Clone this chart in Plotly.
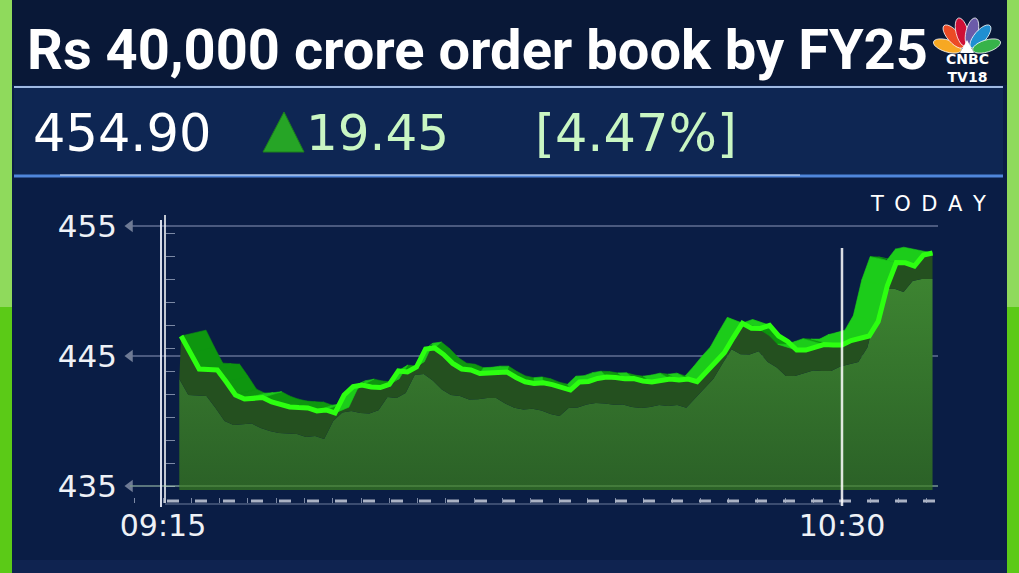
import math
import pandas as pd
import plotly.graph_objects as go

W, H = 1019, 573

# ---------------- data ----------------
TITLE = "Rs 40,000 crore order book by FY25"
LAST_PRICE = "454.90"
CHANGE = "19.45"
CHANGE_PCT = "[4.47%]"
PERIOD = "TODAY"
BRAND_TOP = "CNBC"
BRAND_BOTTOM = "TV18"

DAY = "2024-01-01"
FIRST_MINUTE = "09:17"
PRICES = [
    446.54, 445.23, 444.00, 443.96, 443.92, 443.00, 442.00, 441.69, 441.73, 441.80,
    441.46, 441.23, 441.08, 441.03, 441.00, 440.77, 440.85, 440.62, 442.00, 442.65,
    442.77, 442.62, 442.57, 442.82, 443.85, 443.77, 444.15, 445.54, 445.62, 445.11,
    444.43, 444.00, 443.92, 443.65, 443.68, 443.77, 443.77, 443.35, 443.02, 442.88,
    442.94, 442.80, 442.54, 442.38, 443.00, 443.04, 443.27, 443.38, 443.35, 443.25,
    443.26, 443.08, 443.00, 443.08, 443.23, 443.15, 443.23, 443.02, 443.74, 444.54,
    445.25, 446.42, 447.52, 447.14, 447.12, 447.36, 446.54, 446.12, 445.46, 445.46,
    445.65, 445.88, 445.85, 445.85, 446.19, 446.35, 446.54, 447.66, 450.39, 452.19,
    452.17, 451.92, 452.77, 452.92,
]
Y_TICKS = [435, 445, 455]
X_TICKS = ["09:15", "10:30"]

# ---------------- geometry (pixels) ----------------
PLOT_L, PLOT_R, PLOT_T, PLOT_B = 130, 938, 215, 503
XT0_PX, XT1_PX = 163, 842          # pixel of first / last x tick
YT_TOP_PX, YT_BOT_PX = 226, 486    # pixel of top / bottom y tick


def fx(px):
    return px / W


def fy(py):
    return 1 - py / H


times = pd.date_range(f"{DAY} {FIRST_MINUTE}", periods=len(PRICES), freq="min")
t_first = pd.Timestamp(f"{DAY} {X_TICKS[0]}")
t_last = pd.Timestamp(f"{DAY} {X_TICKS[-1]}")
tick_minutes = (t_last - t_first).total_seconds() / 60
ppm = (XT1_PX - XT0_PX) / tick_minutes
x_range = [t_first - pd.Timedelta(minutes=(XT0_PX - PLOT_L) / ppm),
           t_first + pd.Timedelta(minutes=(PLOT_R - XT0_PX) / ppm)]
ppu = (YT_BOT_PX - YT_TOP_PX) / (Y_TICKS[-1] - Y_TICKS[0])
y_range = [Y_TICKS[0] - (PLOT_B - YT_BOT_PX) / ppu,
           Y_TICKS[-1] + (YT_TOP_PX - PLOT_T) / ppu]


def yval(py):
    return Y_TICKS[-1] - (py - YT_TOP_PX) / ppu


# ---------------- derived 3D decoration ----------------
BASE = yval(490)
SH_DT = pd.Timedelta(minutes=1.2)
SH_DY = 2.0
shadow_x = list(times[1:] - SH_DT) + [times[-1]]
shadow_y = [p - SH_DY for p in PRICES[1:]] + [PRICES[-1] - SH_DY]

VP_MIN, PERSP, RIB_DY = 40.5, 0.0714, 0.45
mins = [(t - t_first).total_seconds() / 60 for t in times]
back_x = [t_first + pd.Timedelta(minutes=m + PERSP * (VP_MIN - m)) for m in mins]
back_y = [p + RIB_DY for p in PRICES]

up_x, up_y, dn_x, dn_y = [], [], [], []
for i in range(len(PRICES) - 1):
    qx = [times[i], times[i + 1], back_x[i + 1], back_x[i], times[i], None]
    qy = [PRICES[i], PRICES[i + 1], back_y[i + 1], back_y[i], PRICES[i], None]
    if PRICES[i + 1] >= PRICES[i]:
        up_x += qx; up_y += qy
    else:
        dn_x += qx; dn_y += qy

fig = go.Figure()
fig.add_trace(go.Scatter(x=[shadow_x[0], shadow_x[-1]], y=[BASE, BASE], mode="lines",
                         line=dict(width=0), hoverinfo="skip", showlegend=False))
fig.add_trace(go.Scatter(x=shadow_x, y=shadow_y, mode="lines", line=dict(width=0),
                         fill="tonexty",
                         fillgradient=dict(type="vertical",
                                           colorscale=[[0, "#2b6127"], [1, "#3d8431"]]),
                         hoverinfo="skip", showlegend=False))
fig.add_trace(go.Scatter(x=times, y=PRICES, mode="lines", line=dict(width=0),
                         fill="tonexty", fillcolor="#24501f",
                         hoverinfo="skip", showlegend=False))
fig.add_trace(go.Scatter(x=dn_x, y=dn_y, mode="lines", fill="toself", fillcolor="#0e960f",
                         line=dict(width=0.6, color="#0e960f"),
                         hoverinfo="skip", showlegend=False))
fig.add_trace(go.Scatter(x=up_x, y=up_y, mode="lines", fill="toself", fillcolor="#1ccc1a",
                         line=dict(width=0.6, color="#1ccc1a"),
                         hoverinfo="skip", showlegend=False))
fig.add_trace(go.Scatter(x=times, y=PRICES, mode="lines",
                         line=dict(width=5, color="#2cff10"),
                         hoverinfo="skip", showlegend=False))
# axis arrow decorations
fig.add_trace(go.Scatter(x=[x_range[0]] * len(Y_TICKS), y=Y_TICKS, mode="markers",
                         marker=dict(symbol="triangle-left", size=11, color="#6f7b95"),
                         cliponaxis=False, hoverinfo="skip", showlegend=False))
fig.add_trace(go.Scatter(x=[t_first, t_last], y=[yval(507)] * 2, mode="markers",
                         marker=dict(symbol="triangle-down", size=8, color="#e8ecf4"),
                         cliponaxis=False, hoverinfo="skip", showlegend=False))
fig.add_trace(go.Scatter(x=[times[0]], y=[Y_TICKS[0]], yaxis="y2", mode="markers",
                         marker=dict(size=0.1, opacity=0), hoverinfo="skip",
                         showlegend=False))

shapes = []


def rect(x0, y0, x1, y1, color, layer="below"):
    shapes.append(dict(type="rect", xref="paper", yref="paper", x0=fx(x0), x1=fx(x1),
                       y0=fy(y1), y1=fy(y0), fillcolor=color, line=dict(width=0),
                       layer=layer))


def hline(x0, x1, py, color, width, dash="solid", layer="below"):
    shapes.append(dict(type="line", xref="paper", yref="paper", x0=fx(x0), x1=fx(x1),
                       y0=fy(py), y1=fy(py), line=dict(color=color, width=width, dash=dash),
                       layer=layer))


# background panels
rect(0, 0, W, 85, "#091837")
rect(14, 86, 1003, 177, "#0e2653")
hline(14, 1003, 87, "#9fb9e2", 2)
hline(14, 1003, 176, "#4f86db", 3)
hline(60, 800, 175, "rgba(255,255,255,0.55)", 1.5)
rect(0, 560, W, H, "#0f2350")
# chart decorations
hline(165, XT1_PX, 504, "rgba(190,200,225,0.55)", 1, layer="above")
hline(167, 937, 501, "#aab2c4", 3, dash="12px,16px", layer="above")
hline(PLOT_L, PLOT_R, YT_BOT_PX, "rgba(140,200,120,0.35)", 1.5, layer="above")
shapes.append(dict(type="line", xref="paper", yref="paper", x0=fx(161), x1=fx(161),
                   y0=fy(507), y1=fy(220), line=dict(color="rgba(235,240,250,0.9)", width=2),
                   layer="above"))
shapes.append(dict(type="line", xref="x", yref="paper", x0=t_last, x1=t_last,
                   y0=fy(506), y1=fy(248), line=dict(color="rgba(255,255,255,0.85)", width=2.5),
                   layer="above"))
# green side borders
for bx0, bx1 in [(0, 12), (1007, W)]:
    rect(bx0, 0, bx1, 307, "#8fda5c", layer="above")
    rect(bx0, 307, bx1, H, "#5bca17", layer="above")

# up triangle
tri = [(263, 152), (284, 112), (304, 152)]
shapes.append(dict(type="path", xref="paper", yref="paper",
                   path="M " + " L ".join(f"{fx(a)},{fy(b)}" for a, b in tri) + " Z",
                   fillcolor="#26a526", line=dict(color="#1c7f1c", width=1), layer="above"))

# peacock logo
BX, BY = 967, 52
FEATHER_ANGLES = [163, 131, 104, 76, 49, 17]
FEATHER_COLORS = ["#f7a823", "#ec4b25", "#cf1036", "#6b5ba9", "#1f8fd2", "#37b34a"]
for ang, col in zip(FEATHER_ANGLES, FEATHER_COLORS):
    a = math.radians(ang)
    dx, dy = math.cos(a), -math.sin(a)
    L, Wd, r0 = 29, 12, 6
    cx, cy = BX + dx * (r0 + L / 2), BY + dy * (r0 + L / 2)
    pts = []
    for k in range(24):
        th = 2 * math.pi * k / 24
        u, v = (L / 2) * math.cos(th), (Wd / 2) * math.sin(th)
        pts.append((cx + u * dx - v * dy, cy + u * dy + v * dx))
    shapes.append(dict(type="path", xref="paper", yref="paper",
                       path="M " + " L ".join(f"{fx(p)},{fy(q)}" for p, q in pts) + " Z",
                       fillcolor=col, line=dict(width=0.8, color="white"), layer="above"))
body = [(960, 53), (967, 40), (974, 53)]
shapes.append(dict(type="path", xref="paper", yref="paper",
                   path="M " + " L ".join(f"{fx(a)},{fy(b)}" for a, b in body) + " Z",
                   fillcolor="white", line=dict(width=0), layer="above"))

annotations = []


def text(s, x, y, size, color="white", family="DejaVu Sans", xanchor="left", weight=400):
    annotations.append(dict(text=s, xref="paper", yref="paper", x=fx(x), y=fy(y),
                            xanchor=xanchor, yanchor="middle", showarrow=False,
                            font=dict(family=family, size=size, color=color, weight=weight)))


text(TITLE, 25, 50, 56, family="Roboto", weight=700)
text(LAST_PRICE, 31, 133, 51)
text(CHANGE, 304, 133, 50, color="#c9f6c3")
text(CHANGE_PCT, 533, 133, 51, color="#c9f6c3")
text("\u2002".join(PERIOD), 988, 204, 21, xanchor="right")
annotations.append(dict(text=f"{BRAND_TOP}<br>{BRAND_BOTTOM}", xref="paper", yref="paper",
                        x=fx(967), y=fy(68), xanchor="center", yanchor="middle",
                        showarrow=False, align="center",
                        font=dict(family="DejaVu Sans", size=14, color="white", weight=700)))

fig.update_layout(
    width=W, height=H, margin=dict(l=0, r=0, t=0, b=0, pad=0, autoexpand=False),
    paper_bgcolor="#0a1d45", plot_bgcolor="rgba(0,0,0,0)",
    showlegend=False, shapes=shapes, annotations=annotations,
    xaxis=dict(domain=[fx(PLOT_L), fx(PLOT_R)], range=x_range, type="date",
               automargin=False,
               tickvals=[t_first, t_last], ticktext=X_TICKS, ticks="",
               tickfont=dict(family="DejaVu Sans", size=30, color="#eef1f6"),
               showgrid=False, zeroline=False, showline=False, ticklabelstandoff=2,
               minor=dict(ticks="inside", ticklen=5, tickcolor="rgba(200,210,230,0.6)",
                          tickmode="linear", tick0=t_first, dtick=187500, showgrid=False)),
    yaxis=dict(domain=[fy(PLOT_B), fy(PLOT_T)], range=y_range, automargin=False,
               tickvals=Y_TICKS, ticktext=[str(v) for v in Y_TICKS], ticks="",
               tickfont=dict(family="DejaVu Sans", size=31, color="#eef1f6"),
               showgrid=True, gridcolor="rgba(140,152,185,0.5)", gridwidth=1.5,
               zeroline=False, showline=False, ticklabelstandoff=12),
    yaxis2=dict(overlaying="y", anchor="free", position=fx(165), side="right",
                automargin=False,
                range=y_range, showline=True, linecolor="rgba(255,255,255,0.75)",
                linewidth=1.5, ticks="outside", ticklen=9,
                tickcolor="rgba(200,210,230,0.6)", tickmode="linear",
                tick0=yval(233), dtick=(yval(233) - yval(256)),
                showticklabels=False, showgrid=False, zeroline=False),
)

fig.write_html("out.html", config={"displayModeBar": False},
               post_script="document.body.style.margin='0';")
